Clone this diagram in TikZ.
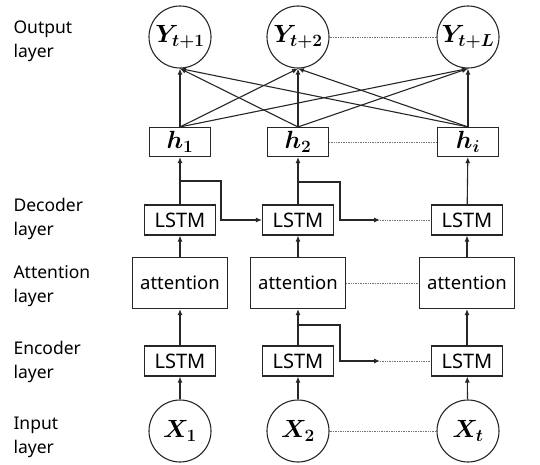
\documentclass[tikz,border=0pt]{standalone}
\usepackage{amsmath}
\usepackage{bm}
\usepackage{fontspec}
\setsansfont{Noto Sans}
\usetikzlibrary{arrows.meta}
\tikzset{
    > = {Latex[length=6pt, width=5pt]},
    unit/.style = {circle, draw, minimum size = 62pt, inner sep = 0pt, font = \fontsize{24}{28}\selectfont},
    hbox/.style = {rectangle, draw, minimum width = 61pt, minimum height = 29pt, inner sep = 0pt, font = \fontsize{23}{26}\selectfont},
    lstm/.style = {rectangle, draw, minimum width = 71pt, minimum height = 30pt, inner sep = 0pt, font = \sffamily\fontsize{20}{22}\selectfont},
    attn/.style = {rectangle, draw, minimum width = 95pt, minimum height = 51pt, inner sep = 0pt, font = \sffamily\fontsize{18.5}{22}\selectfont},
    layername/.style = {anchor = west, align = left, inner sep = 0pt, font = \sffamily\fontsize{17.5}{24}\selectfont},
    gap/.style = {densely dotted, line width = 0.7pt, draw = black!55}
}
\begin{document}
\begin{tikzpicture}[x = 1pt, y = -1pt, line width = 1.1pt, draw = black!85]
    \useasboundingbox (0, 0) rectangle (540, 465);

    % layer names
    \node[layername] (lout) at (13, 41) {Output\\layer};
    \node[layername] (ldec) at (13, 219) {Decoder\\layer};
    \node[layername] (latt) at (13, 286) {Attention\\layer};
    \node[layername] (lenc) at (13, 362) {Encoder\\layer};
    \node[layername] (linp) at (13, 437) {Input\\layer};

    % output layer
    \node[unit] (y1) at (180, 37) {$\bm{Y}_{\bm{t+1}}$};
    \node[unit] (y2) at (298, 37) {$\bm{Y}_{\bm{t+2}}$};
    \node[unit] (yl) at (468, 37) {$\bm{Y}_{\bm{t+L}}$};

    % hidden states
    \node[hbox] (h1) at (180, 142) {$\bm{h}_{\bm{1}}$};
    \node[hbox] (h2) at (298, 142) {$\bm{h}_{\bm{2}}$};
    \node[hbox] (hi) at (468, 142) {$\bm{h}_{\bm{i}}$};

    % decoder
    \node[lstm] (dec1) at (180, 220) {LSTM};
    \node[lstm] (dec2) at (298, 220) {LSTM};
    \node[lstm] (dec3) at (467, 220) {LSTM};

    % attention
    \node[attn] (att1) at (180, 283) {attention};
    \node[attn] (att2) at (298, 283) {attention};
    \node[attn] (att3) at (467, 283) {attention};

    % encoder
    \node[lstm] (enc1) at (180, 361) {LSTM};
    \node[lstm] (enc2) at (298, 361) {LSTM};
    \node[lstm] (enc3) at (467, 361) {LSTM};

    % input layer
    \node[unit] (x1) at (180, 431) {$\bm{X}_{\bm{1}}$};
    \node[unit] (x2) at (298, 431) {$\bm{X}_{\bm{2}}$};
    \node[unit] (xt) at (468, 431) {$\bm{X}_{\bm{t}}$};

    % vertical flow
    \draw[->] (x1) -- (enc1);
    \draw[->] (x2) -- (enc2);
    \draw[->] (xt) -- (enc3);
    \draw[->] (enc1) -- (att1);
    \draw[->] (enc2) -- (att2);
    \draw[->] (enc3) -- (att3);
    \draw[->] (att1) -- (dec1);
    \draw[->] (att2) -- (dec2);
    \draw[->] (att3) -- (dec3);
    \draw[->] (dec1) -- (h1);
    \draw[->] (dec2) -- (h2);
    \draw[->] (dec3) -- (hi);

    % fully connected output
    \draw[->] (h1.north) -- (y1.south);
    \draw[->] (h1.north) -- (y2.south);
    \draw[->] (h1.north) -- (yl.south);
    \draw[->] (h2.north) -- (y1.south);
    \draw[->] (h2.north) -- (y2.south);
    \draw[->] (h2.north) -- (yl.south);
    \draw[->] (hi.north) -- (y1.south);
    \draw[->] (hi.north) -- (y2.south);
    \draw[->] (hi.north) -- (yl.south);

    % recurrent links
    \coordinate (db1) at (180, 181);
    \coordinate (db2) at (298, 182);
    \coordinate (eb2) at (298, 325);
    \coordinate (dend) at (380, 220);
    \coordinate (eend) at (380, 361);
    \draw[->] (db1) -- ++(41, 0) |- (dec2.west);
    \draw[->] (db2) -- ++(42, 0) |- (dend);
    \draw[->] (eb2) -- ++(42, 0) |- (eend);

    % gaps
    \draw[gap] (dend) -- (dec3.west);
    \draw[gap] (eend) -- (enc3.west);
    \draw[gap] (y2) -- (yl);
    \draw[gap] (h2) -- (hi);
    \draw[gap] (att2) -- (att3);
    \draw[gap] (x2) -- (xt);
\end{tikzpicture}
\end{document}
